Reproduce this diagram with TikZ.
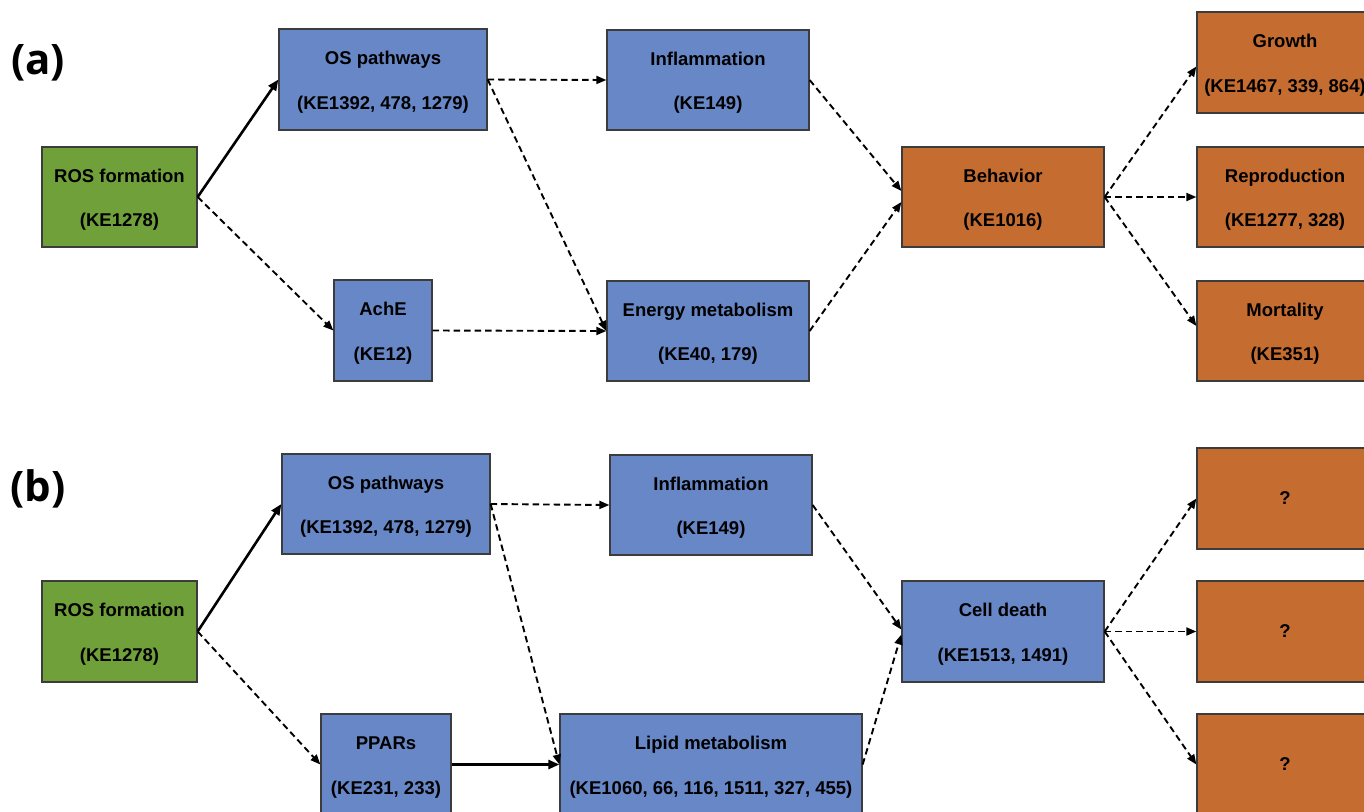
\documentclass[tikz,border=0pt]{standalone}
\usepackage{fontspec}
\setmainfont{Liberation Sans}
\newfontfamily\labelfont{Open Sans}
\usetikzlibrary{arrows.meta}
\definecolor{boxgreen}{RGB}{112,160,58}
\definecolor{boxblue}{RGB}{103,135,199}
\definecolor{boxorange}{RGB}{197,108,48}
\definecolor{boxline}{RGB}{60,60,60}
\newcommand{\twolines}[2]{\rule{0pt}{18.5pt}#1\\#2}
\tikzset{
  kebox/.style={draw=boxline, line width=1.3pt, inner sep=0pt, align=center,
    font=\bfseries\fontsize{18.5}{44.5}\selectfont, text=black},
  greenbox/.style={kebox, fill=boxgreen},
  bluebox/.style={kebox, fill=boxblue},
  orangebox/.style={kebox, fill=boxorange},
  solidarrow/.style={line width=2.6pt, -{Triangle[length=11pt,width=9pt]}},
  dasharrow/.style={line width=1.9pt, dash pattern=on 6.5pt off 4pt, -{Triangle[length=10pt,width=8pt]}},
  panellabel/.style={font=\labelfont\bfseries\fontsize{42}{46}\selectfont, inner sep=0pt}
}
\begin{document}
\begin{tikzpicture}[x=1pt,y=-1pt]
\useasboundingbox (0,0) rectangle (1364,811);
\clip (0,0) rectangle (1364,811);
\fill[white] (0,0) rectangle (1364,811);

% panel (a)
\node[panellabel] (la) at (38,63) {(a)};
\node[greenbox, minimum width=155pt, minimum height=100pt] (rosa) at (119.5,197) {\twolines{ROS formation}{(KE1278)}};
\node[bluebox, minimum width=208pt, minimum height=101pt] (osa) at (383,79.5) {\twolines{OS pathways}{(KE1392, 478, 1279)}};
\node[bluebox, minimum width=98pt, minimum height=101pt] (achea) at (383,330.5) {\twolines{AchE}{(KE12)}};
\node[bluebox, minimum width=202pt, minimum height=100pt] (infla) at (708,80) {\twolines{Inflammation}{(KE149)}};
\node[bluebox, minimum width=202pt, minimum height=100pt] (energya) at (708,331) {\twolines{Energy metabolism}{(KE40, 179)}};
\node[orangebox, minimum width=202pt, minimum height=100pt] (beha) at (1003,197) {\twolines{Behavior}{(KE1016)}};
\node[orangebox, minimum width=176pt, minimum height=101pt] (growtha) at (1285,62.5) {\twolines{Growth}{(KE1467, 339, 864)}};
\node[orangebox, minimum width=176pt, minimum height=100pt] (reproa) at (1285,197) {\twolines{Reproduction}{(KE1277, 328)}};
\node[orangebox, minimum width=176pt, minimum height=100pt] (morta) at (1285,331) {\twolines{Mortality}{(KE351)}};

\draw[solidarrow] (rosa.east) -- (osa.west);
\draw[dasharrow] (rosa.east) -- (achea.west);
\draw[dasharrow] (osa.east) -- (infla.west);
\draw[dasharrow] (osa.east) -- (energya.west);
\draw[dasharrow] (achea.east) -- (energya.west);
\draw[dasharrow] (infla.east) -- ([yshift=6pt]beha.west);
\draw[dasharrow] (energya.east) -- ([yshift=-5pt]beha.west);
\draw[dasharrow] (beha.east) -- ([yshift=-4pt]growtha.west);
\draw[dasharrow] (beha.east) -- (reproa.west);
\draw[dasharrow] (beha.east) -- ([yshift=5pt]morta.west);

% panel (b)
\node[panellabel] (lb) at (38,489) {(b)};
\node[greenbox, minimum width=155pt, minimum height=101pt] (rosb) at (119.5,631.5) {\twolines{ROS formation}{(KE1278)}};
\node[bluebox, minimum width=208pt, minimum height=100pt] (osb) at (386,504) {\twolines{OS pathways}{(KE1392, 478, 1279)}};
\node[bluebox, minimum width=130pt, minimum height=101pt] (pparsb) at (386,764.5) {\twolines{PPARs}{(KE231, 233)}};
\node[bluebox, minimum width=202pt, minimum height=100pt] (inflb) at (711,505) {\twolines{Inflammation}{(KE149)}};
\node[bluebox, minimum width=302pt, minimum height=101pt] (lipidb) at (711,764.5) {\twolines{Lipid metabolism}{(KE1060, 66, 116, 1511, 327, 455)}};
\node[bluebox, minimum width=202pt, minimum height=101pt] (cellb) at (1003,631.5) {\twolines{Cell death}{(KE1513, 1491)}};
\node[orangebox, minimum width=176pt, minimum height=101pt] (qa) at (1285,498.5) {?};
\node[orangebox, minimum width=176pt, minimum height=101pt] (qb) at (1285,631.5) {?};
\node[orangebox, minimum width=176pt, minimum height=101pt] (qc) at (1285,764.5) {?};

\draw[solidarrow] (rosb.east) -- (osb.west);
\draw[dasharrow] (rosb.east) -- (pparsb.west);
\draw[dasharrow] (osb.east) -- (inflb.west);
\draw[dasharrow] (osb.east) -- (lipidb.west);
\draw[solidarrow] (pparsb.east) -- (lipidb.west);
\draw[dasharrow] (inflb.east) -- ([yshift=2pt]cellb.west);
\draw[dasharrow] (lipidb.east) -- ([yshift=-3pt]cellb.west);
\draw[dasharrow] (cellb.east) -- (qa.west);
\draw[dasharrow] (cellb.east) -- (qb.west);
\draw[dasharrow] (cellb.east) -- (qc.west);
\end{tikzpicture}
\end{document}
